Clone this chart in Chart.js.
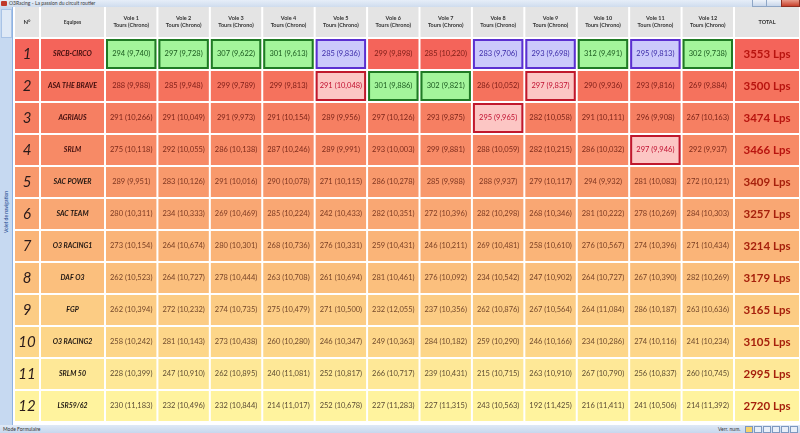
<!DOCTYPE html>
<html><head><meta charset="utf-8">
<script src="https://cdn.jsdelivr.net/npm/chart.js@4/dist/chart.umd.min.js"></script>
<style>
html,body{margin:0;padding:0;width:800px;height:433px;overflow:hidden;background:#fff;font-family:Lato,"Open Sans",sans-serif}
#c{position:absolute;left:0;top:0}
#title{position:absolute;left:0;top:0;width:800px;height:7px;background:linear-gradient(#e6eef8,#cfdcee);font-size:5px;line-height:7px;color:#3a3a3a;white-space:nowrap}
#title .t{position:absolute;left:9px;top:0}
#title .ic{position:absolute;left:1px;top:1px;width:6px;height:5px;background:#c0392b;border-radius:1px}
#title .bt{position:absolute;top:0;height:6px;border:1px solid #8ea6c6;border-top:0;background:linear-gradient(#eef3fa,#c8d6ea)}
#nav{position:absolute;left:0;top:7px;width:12px;height:418px;background:#c6d9f1;border-right:1px solid #8db2e3}
#nav .lb{position:absolute;left:-24px;top:200px;width:60px;height:10px;font-size:5px;line-height:10px;color:#15428b;text-align:center;transform:rotate(-90deg)}
#nav .tp{position:absolute;left:1px;top:2px;width:9px;height:27px;background:#dfe9f6;border:1px solid #a9c3e6}
#status{position:absolute;left:0;top:425px;width:800px;height:8px;background:linear-gradient(#dfe9f6,#c7d7ee);font-size:5px;line-height:8px;color:#333}
#status .l{position:absolute;left:3px}
#status .r{position:absolute;left:718px}
#status .ico{position:absolute;top:1px;width:6px;height:5px;border:1px solid #7d98c0;background:#e8eef8}
</style></head>
<body>
<canvas id="c" width="800" height="433"></canvas>
<div id="title"><div class="ic"></div><span class="t">O3Racing - La passion du circuit routier</span>
<div class="bt" style="left:752px;width:13px"></div><div class="bt" style="left:766px;width:14px"></div><div class="bt" style="left:781px;width:17px;background:linear-gradient(#e79a8a,#c8412c);border-color:#8c2f22"></div></div>
<div id="nav"><div class="tp"></div><div class="lb">Volet de navigation</div></div>
<div id="status"><span class="l">Mode Formulaire</span><span class="r">Verr. num.</span>
<div class="ico" style="left:745px;background:#f6d36b"></div><div class="ico" style="left:754px"></div><div class="ico" style="left:763px"></div><div class="ico" style="left:772px"></div><div class="ico" style="left:781px"></div><div class="ico" style="left:790px"></div></div>
<script>
// ---------- DATA ----------
const ranks = ['1','2','3','4','5','6','7','8','9','10','11','12'];
const teams = ['SRCB-CIRCO','ASA THE BRAVE','AGRIAUS','SRLM','SAC POWER','SAC TEAM','O3 RACING1','DAF O3','FGP','O3 RACING2','SRLM 50','LSR59/62'];
const voleLabels = ['Vole 1','Vole 2','Vole 3','Vole 4','Vole 5','Vole 6','Vole 7','Vole 8','Vole 9','Vole 10','Vole 11','Vole 12'];
const headerLabels = ['N°','Equipes','TOTAL'];
const subHeader = 'Tours (Chrono)';

const lapsV1  = [294,288,291,275,289,280,273,262,262,258,228,230];
const chronoV1  = [9.740,9.988,10.266,10.118,9.951,10.311,10.154,10.523,10.394,10.242,10.399,11.183];
const lapsV2  = [297,285,291,292,283,234,264,264,272,281,247,232];
const chronoV2  = [9.728,9.948,10.049,10.055,10.126,10.333,10.674,10.727,10.232,10.143,10.910,10.496];
const lapsV3  = [307,299,291,286,291,269,280,278,274,273,262,232];
const chronoV3  = [9.622,9.789,9.973,10.138,10.016,10.469,10.301,10.444,10.735,10.438,10.895,10.844];
const lapsV4  = [301,299,291,287,290,285,268,263,275,260,240,214];
const chronoV4  = [9.613,9.813,10.154,10.246,10.078,10.224,10.736,10.708,10.479,10.280,11.081,11.017];
const lapsV5  = [285,291,289,289,271,242,276,261,271,246,252,252];
const chronoV5  = [9.836,10.048,9.956,9.991,10.115,10.433,10.331,10.694,10.500,10.347,10.817,10.678];
const lapsV6  = [299,301,297,293,286,282,259,281,232,249,266,227];
const chronoV6  = [9.898,9.886,10.126,10.003,10.278,10.351,10.431,10.461,12.055,10.363,10.717,11.283];
const lapsV7  = [285,302,293,299,285,272,246,276,237,284,239,227];
const chronoV7  = [10.220,9.821,9.875,9.881,9.988,10.396,10.211,10.092,10.356,10.182,10.431,11.315];
const lapsV8  = [283,286,295,288,288,282,269,234,262,259,215,243];
const chronoV8  = [9.706,10.052,9.965,10.059,9.937,10.298,10.481,10.542,10.876,10.290,10.715,10.563];
const lapsV9  = [293,297,282,282,279,268,258,247,267,246,263,192];
const chronoV9  = [9.698,9.837,10.058,10.215,10.117,10.346,10.610,10.902,10.564,10.166,10.910,11.425];
const lapsV10 = [312,290,291,286,294,281,276,264,264,234,267,216];
const chronoV10 = [9.491,9.936,10.111,10.032,9.932,10.222,10.567,10.727,11.084,10.286,10.790,11.411];
const lapsV11 = [295,293,296,297,281,278,274,267,286,274,256,241];
const chronoV11 = [9.813,9.816,9.908,9.946,10.083,10.269,10.396,10.390,10.187,10.116,10.837,10.506];
const lapsV12 = [302,269,267,292,272,284,271,282,263,241,260,214];
const chronoV12 = [9.738,9.884,10.163,9.937,10.121,10.303,10.434,10.269,10.636,10.234,10.745,11.392];
const totals = [3553,3500,3474,3466,3409,3257,3214,3179,3165,3105,2995,2720];

// highlighted cells [row, vole]
const greenMarks  = [[0,0],[0,1],[0,2],[0,3],[0,9],[0,11],[1,5],[1,6]];
const purpleMarks = [[0,4],[0,7],[0,8],[0,10]];
const pinkMarks   = [[1,4],[1,8],[2,7],[3,10]];

const lapsByVole = [lapsV1,lapsV2,lapsV3,lapsV4,lapsV5,lapsV6,lapsV7,lapsV8,lapsV9,lapsV10,lapsV11,lapsV12];
const chronoByVole = [chronoV1,chronoV2,chronoV3,chronoV4,chronoV5,chronoV6,chronoV7,chronoV8,chronoV9,chronoV10,chronoV11,chronoV12];

// ---------- LAYOUT / STYLE ----------
const colEdges = [-1.736,-1.240,0,1,2,3,4,5,6,7,8,9,10,11,12,13.259]; // in vole-column units
const rowFill = ['#f4645a','#f5725d','#f67f62','#f78a66','#f8996c','#f9a773','#fab478','#fbbf7d','#fccc84','#fdd689','#fee897','#fff39e'];
const textFill = ['#7c1c16','#7c1c16','#7c2418','#7c2a1a','#7d3520','#7d3a22','#7b4024','#784428','#74482a','#6f4a2c','#5f4d32','#5a4a34'];
const headerFill = '#e4e4e4';
const markStyle = {
  G:{fill:'#a3f59b',stroke:'#1f7a24',text:'#1b5a1f'},
  P:{fill:'#cbc9fb',stroke:'#5b2fd0',text:'#3b2aa8'},
  R:{fill:'#fcc6c4',stroke:'#c0182c',text:'#c01030'}
};
const markMap = {};
greenMarks.forEach(([r,c])=>markMap[r+'_'+c]='G');
purpleMarks.forEach(([r,c])=>markMap[r+'_'+c]='P');
pinkMarks.forEach(([r,c])=>markMap[r+'_'+c]='R');
function markAt(r,c){return markMap[r+'_'+c];}

const rowLabels = ['hdr'].concat(ranks);
const datasets = [];
for (let c=0;c<colEdges.length-1;c++){
  datasets.push({
    label:'col'+c,
    data: rowLabels.map(()=>[colEdges[c],colEdges[c+1]]),
    backgroundColor:(ctx)=>{
      const r=ctx.dataIndex, col=ctx.datasetIndex;
      if(r===0) return headerFill;
      const m=markAt(r-1,col-2);
      if(m) return markStyle[m].fill;
      return rowFill[r-1];
    },
    borderColor:'#ffffff',
    borderWidth:{left:1,right:1,top:0,bottom:0},
    borderSkipped:false,
    grouped:false,
    barPercentage:0.9375,
    categoryPercentage:1
  });
}

function fmtChrono(v){return v.toFixed(3).replace('.',',');}

const cellText = {
  id:'cellText',
  afterDatasetsDraw(chart){
    const ctx=chart.ctx;
    ctx.save();
    ctx.textAlign='center';ctx.textBaseline='middle';
    chart.data.datasets.forEach((ds,c)=>{
      const meta=chart.getDatasetMeta(c);
      meta.data.forEach((el,r)=>{
        const x0=Math.min(el.x,el.base), x1=Math.max(el.x,el.base);
        const cx=(x0+x1)/2, cy=el.y, h=el.height;
        const vi=c-2;
        if(r===0){
          ctx.fillStyle='#333';
          if(c===0){ctx.font='bold 6px Lato';ctx.fillText(headerLabels[0],cx,cy);}
          else if(c===1){ctx.font='bold 5px Lato';ctx.fillText(headerLabels[1],cx,cy);}
          else if(c===14){ctx.font='bold 5.5px Lato';ctx.fillText(headerLabels[2],cx,cy);}
          else {ctx.font='bold 5.5px Lato';ctx.fillText(voleLabels[vi],cx,cy-3.5);ctx.fillText(subHeader,cx,cy+3.5);}
          return;
        }
        const row=r-1;
        if(c===0){
          ctx.fillStyle='#2a1a1a';ctx.font='italic 15px Lato';ctx.fillText(ranks[row],cx,cy+0.5);
        } else if(c===1){
          ctx.fillStyle=row<4?'#3e0c0c':'#1c1410';ctx.font='italic bold 7px Lato';ctx.fillText(teams[row],cx,cy);
        } else if(c===14){
          ctx.fillStyle=row<4?'#b8140f':'#a6200c';ctx.font='bold 11.5px Lato';ctx.fillText(totals[row]+' Lps',cx,cy);
        } else {
          const m=markAt(row,vi);
          if(m){
            const s=markStyle[m];
            ctx.strokeStyle=s.stroke;ctx.lineWidth=2;
            ctx.strokeRect(x0+2,el.y-h/2+1,(x1-x0)-4,h-2);
          }
          ctx.fillStyle=m?markStyle[m].text:textFill[row];
          ctx.font='7.5px Lato';
          ctx.fillText(lapsByVole[vi][row]+' ('+fmtChrono(chronoByVole[vi][row])+')',cx,cy);
        }
      });
    });
    ctx.restore();
  }
};

new Chart(document.getElementById('c'),{
  type:'bar',
  data:{labels:rowLabels,datasets},
  options:{
    indexAxis:'y',
    responsive:false,
    animation:false,
    devicePixelRatio:1,
    layout:{padding:{left:14,top:6,right:0,bottom:11}},
    plugins:{legend:{display:false},tooltip:{enabled:false},title:{display:false}},
    scales:{
      x:{type:'linear',min:colEdges[0],max:colEdges[colEdges.length-1],display:false},
      y:{type:'category',display:false,offset:true,grid:{display:false}}
    }
  },
  plugins:[cellText]
});
</script>
</body></html>
